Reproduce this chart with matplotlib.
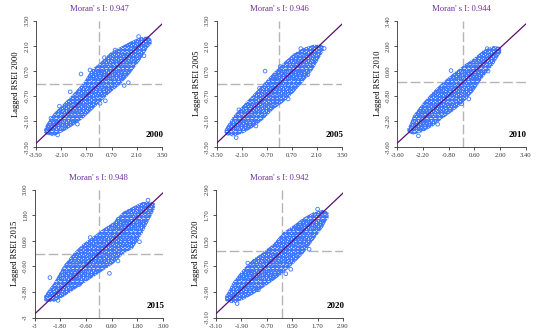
import numpy as np
import matplotlib
matplotlib.use("Agg")
import matplotlib.pyplot as plt

plt.rcParams['font.family'] = ['Liberation Serif', 'DejaVu Serif']
plt.rcParams['hatch.linewidth'] = 0.65

years = ['2000', '2005', '2010', '2015', '2020']
morans_i = [0.947, 0.946, 0.944, 0.948, 0.942]

ticks = [
    [-3.50, -2.10, -0.70, 0.70, 2.10, 3.50],
    [-3.50, -2.10, -0.70, 0.70, 2.10, 3.50],
    [-3.60, -2.20, -0.80, 0.60, 2.00, 3.40],
    [-3, -1.80, -0.60, 0.60, 1.80, 3.00],
    [-3.10, -1.90, -0.70, 0.50, 1.70, 2.90],
]
tick_labels = [
    ['-3.50', '-2.10', '-0.70', '0.70', '2.10', '3.50'],
    ['-3.50', '-2.10', '-0.70', '0.70', '2.10', '3.50'],
    ['-3.60', '-2.20', '-0.80', '0.60', '2.00', '3.40'],
    ['-3', '-1.80', '-0.60', '0.60', '1.80', '3.00'],
    ['-3.10', '-1.90', '-0.70', '0.50', '1.70', '2.90'],
]

# outline of each point cloud (x, lower y, upper y)
cloud_x = [
    [-3.05, -2.94, -2.54, -1.98, -1.43, -0.87, -0.41, 0.06, 0.61, 1.17, 1.72, 2.28, 2.74, 2.92],
    [-3.05, -2.94, -2.57, -2.01, -1.45, -0.89, -0.33, 0.23, 0.79, 1.35, 1.91, 2.38, 2.48],
    [-3.05, -2.95, -2.73, -2.18, -1.64, -1.09, -0.55, 0.00, 0.55, 1.09, 1.64, 1.96, 2.06],
    [-2.55, -2.44, -2.08, -1.69, -1.22, -0.75, -0.28, 0.19, 0.66, 1.13, 1.59, 2.06, 2.53, 2.62],
    [-2.67, -2.57, -2.28, -1.81, -1.34, -0.87, -0.40, 0.07, 0.54, 1.01, 1.48, 1.95, 2.14, 2.22],
]
cloud_lo = [
    [-2.72, -2.82, -2.92, -2.66, -2.32, -1.92, -1.49, -1.03, -0.51, -0.06, 0.55, 1.29, 2.03, 2.20],
    [-2.72, -2.86, -2.93, -2.75, -2.42, -1.99, -1.43, -1.03, -0.51, 0.12, 0.82, 1.66, 1.85],
    [-2.75, -2.85, -2.92, -2.77, -2.45, -2.01, -1.62, -1.15, -0.54, 0.28, 0.95, 1.49, 1.62],
    [-2.20, -2.27, -2.26, -2.06, -1.75, -1.43, -1.12, -0.81, -0.50, -0.03, 0.23, 0.98, 1.91, 2.10],
    [-2.30, -2.38, -2.43, -2.27, -2.01, -1.70, -1.38, -1.02, -0.60, -0.13, 0.49, 1.12, 1.48, 1.55],
]
cloud_hi = [
    [-2.55, -2.29, -1.68, -1.12, -0.57, 0.05, 0.79, 1.16, 1.71, 2.03, 2.32, 2.58, 2.62, 2.47],
    [-2.58, -2.38, -1.81, -1.19, -0.60, -0.01, 0.60, 1.16, 1.66, 1.99, 2.16, 2.16, 2.08],
    [-2.60, -2.42, -1.86, -1.14, -0.53, 0.01, 0.47, 0.91, 1.29, 1.76, 1.99, 1.95, 1.88],
    [-2.00, -1.84, -1.35, -0.65, -0.03, 0.44, 0.78, 1.14, 1.45, 1.95, 2.19, 2.42, 2.42, 2.35],
    [-2.10, -1.95, -1.41, -0.83, -0.36, -0.05, 0.34, 0.89, 1.20, 1.56, 1.82, 1.95, 1.87, 1.80],
]
# stray points around the dense band
stray_x = [
    [-1.00, 0.06, 1.63, -0.50, -2.67, 0.89, -2.30, -1.20, 0.35, 1.40, 2.50, -2.20, -1.60, 0.30, 2.20],
    [-0.79, 2.51, -2.40, -1.30, 0.50, 1.60, -2.25, -1.10, 0.05, 1.20],
    [-0.09, -0.67, -2.45, -1.40, 0.30, 1.35, -2.40, -1.30, 0.20, 1.30],
    [-2.28, 0.50, -1.90, -0.90, 0.90, 1.90, -1.50, -0.40, 0.90, 2.30],
    [0.43, -2.10, -1.10, 0.20, 1.30, -1.60, -0.60, 0.60, 1.70],
]
stray_y = [
    [0.54, -1.09, 0.06, 0.76, -1.92, 1.87, -2.85, -2.25, -0.95, -0.10, 1.55, -1.25, -0.45, 1.45, 2.62],
    [0.70, 1.96, -3.00, -2.35, -0.85, 0.50, -1.45, -0.25, 0.95, 1.95],
    [-1.22, 0.63, -3.00, -2.35, -0.95, 0.60, -1.75, -0.50, 0.90, 1.85],
    [-1.13, -0.93, -2.20, -1.45, -0.35, 0.55, -0.55, 0.75, 1.60, 2.50],
    [-0.84, -2.45, -1.80, -1.05, 0.10, -0.55, 0.05, 1.05, 1.98],
]

# axes boxes in pixels: left, top, right, bottom
boxes = [
    (36, 20.7, 162, 146.7),
    (216.5, 20.7, 342, 146.7),
    (397.3, 20.7, 525.7, 146.7),
    (34.5, 189.5, 163, 317.5),
    (216, 189.5, 343, 317.5),
]

W, H = 550, 336
fig = plt.figure(figsize=(W / 100, H / 100), dpi=100)

pt_col = '#3f76ff'
for i in range(5):
    l, t, r, b = boxes[i]
    ax = fig.add_axes([l / W, 1 - b / H, (r - l) / W, (b - t) / H])
    lo, hi = ticks[i][0], ticks[i][-1]
    ax.set_xlim(lo, hi)
    ax.set_ylim(lo, hi)

    ax.axvline(0, color='#b5b5b5', lw=1.0, dashes=(7, 2.5), zorder=1)
    ax.axhline(0, color='#b5b5b5', lw=1.0, dashes=(7, 2.5), zorder=1)

    ax.fill_between(cloud_x[i], cloud_lo[i], cloud_hi[i], facecolor='#e8efff',
                    edgecolor=pt_col, hatch='OOOOooooo', linewidth=0, zorder=2)
    ax.scatter(stray_x[i], stray_y[i], s=7, facecolors='none', edgecolors=pt_col,
               linewidths=0.6, zorder=3)

    ax.axline((0, 0), slope=morans_i[i], color='#5a0f70', lw=0.9, zorder=4)

    for s in ['top', 'right']:
        ax.spines[s].set_visible(False)
    for s in ['left', 'bottom']:
        ax.spines[s].set_linewidth(0.6)
        ax.spines[s].set_color('#333333')
    ax.set_xticks(ticks[i])
    ax.set_xticklabels(tick_labels[i])
    ax.set_yticks(ticks[i])
    ax.set_yticklabels(tick_labels[i], rotation=90, va='center')
    ax.tick_params(direction='out', length=2.2, width=0.6, labelsize=4.8,
                   pad=2.5, colors='#333333')

    h = b - t
    ax.text(0.5, 1 + 11.4 / h, "Moran' s I: " + format(morans_i[i], '.3f'),
            transform=ax.transAxes, ha='center', va='center', fontsize=6.2,
            color='#7030a0')
    ax.text(1.01, 0.09, years[i], transform=ax.transAxes, ha='right',
            va='center', fontsize=6.5, fontweight='bold')
    ax.set_ylabel('Lagged RSEI ' + years[i], fontsize=6.1, labelpad=3)

fig.savefig('out.png', dpi=100)
